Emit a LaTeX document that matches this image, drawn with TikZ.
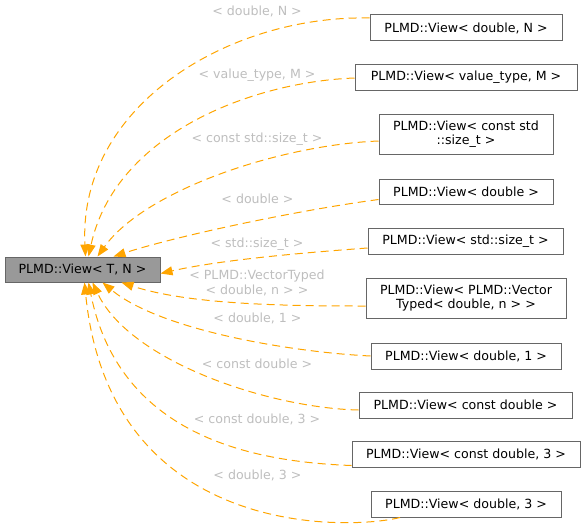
\documentclass[tikz,border=0pt]{standalone}
\usepackage{fontspec}
\setmainfont{DejaVu Sans}
\definecolor{edgeorange}{RGB}{255,165,0}
\definecolor{boxline}{RGB}{102,102,102}
\definecolor{basefill}{RGB}{153,153,153}
\definecolor{lblgray}{RGB}{190,190,190}
\usetikzlibrary{arrows.meta}

\begin{document}
\begin{tikzpicture}[
      x=1pt, y=-1pt,
      cls/.style={draw=boxline, fill=white, inner sep=0pt, line width=1pt,
                  align=center, minimum height=26pt,
                  font=\fontsize{12.6}{14}\selectfont},
      base/.style={cls, fill=basefill, minimum height=25pt},
      lbl/.style={text=lblgray, align=center, inner sep=0pt,
                  font=\fontsize{12.6}{15}\selectfont},
      inh/.style={-{Triangle[length=12pt, width=9pt]}, edgeorange,
                  line width=1pt, dash pattern=on 8pt off 5pt}
    ]
    \useasboundingbox (0,0) rectangle (585,527);

    \node[base, minimum width=155pt] (view) at (82.5,269.5) {PLMD::View< T, N >};

    \node[cls, minimum width=192pt] (vdN)   at (466,28)    {PLMD::View< double, N >};
    \node[cls, minimum width=222pt] (vvtM)  at (466,77)    {PLMD::View< value\_type, M >};
    \node[cls, minimum width=174pt, minimum height=40pt] (vcst) at (466,134)
      {PLMD::View< const std\\::size\_t >};
    \node[cls, minimum width=174pt, minimum height=25pt] (vd) at (466,191.5)
      {PLMD::View< double >};
    \node[cls, minimum width=195pt] (vst)   at (465.5,241) {PLMD::View< std::size\_t >};
    \node[cls, minimum width=200pt, minimum height=40pt] (vvec) at (466,298)
      {PLMD::View< PLMD::Vector\\Typed< double, n > >};
    \node[cls, minimum width=190pt] (vd1)   at (466,356)   {PLMD::View< double, 1 >};
    \node[cls, minimum width=213pt] (vcd)   at (465.5,405) {PLMD::View< const double >};
    \node[cls, minimum width=228pt] (vcd3)  at (466,454.5) {PLMD::View< const double, 3 >};
    \node[cls, minimum width=190pt] (vd3)   at (466,504)   {PLMD::View< double, 3 >};

    % template argument labels
    \node[lbl] (ldN)   at (257,11.5) {< double, N >};
    \node[lbl] (lvtM)  at (257,75)   {< value\_type, M >};
    \node[lbl] (lcst)  at (257,139)  {< const std::size\_t >};
    \node[lbl] (ld)    at (257.5,199) {< double >};
    \node[lbl] (lst)   at (257,244)  {< std::size\_t >};
    \node[lbl] (lvec)  at (257,283)  {< PLMD::VectorTyped\\< double, n > >};
    \node[lbl] (ld1)   at (257.5,318) {< double, 1 >};
    \node[lbl] (lcd)   at (257,364)  {< const double >};
    \node[lbl] (lcd3)  at (257,419)  {< const double, 3 >};
    \node[lbl] (ld3)   at (257.5,475) {< double, 3 >};

    \draw[inh] ([yshift=10pt]vdN.west)  .. controls (230,15) and (78,105)   .. ([xshift=3pt]view.north);
    \draw[inh] ([yshift=-1pt]vvtM.west) .. controls (250,82) and (115,135)  .. ([xshift=6pt]view.north);
    \draw[inh] ([yshift=-7pt]vcst.west) .. controls (280,145) and (145,190) .. ([xshift=15pt]view.north);
    \draw[inh] ([yshift=-8pt]vd.west)   .. controls (300,210) and (180,235) .. ([xshift=31pt]view.north);
    \draw[inh] ([yshift=-7pt]vst.west)  .. controls (300,253) and (220,260) .. ([yshift=-4pt]view.east);
    \draw[inh] ([yshift=-8pt]vvec.west) .. controls (290,306) and (190,305) .. ([xshift=39pt]view.south);
    \draw[inh] (vd1.west)               .. controls (290,352) and (160,330) .. ([xshift=20pt]view.south);
    \draw[inh] ([yshift=-5pt]vcd.west)  .. controls (270,408) and (130,362) .. ([xshift=10pt]view.south);
    \draw[inh] ([yshift=-11pt]vcd3.west) .. controls (260,462) and (120,440) .. ([xshift=6pt]view.south);
    \draw[inh] ([xshift=-66pt]vd3.south) .. controls (350,530) and (110,540) .. ([xshift=2pt]view.south);
  \end{tikzpicture}
\end{document}
